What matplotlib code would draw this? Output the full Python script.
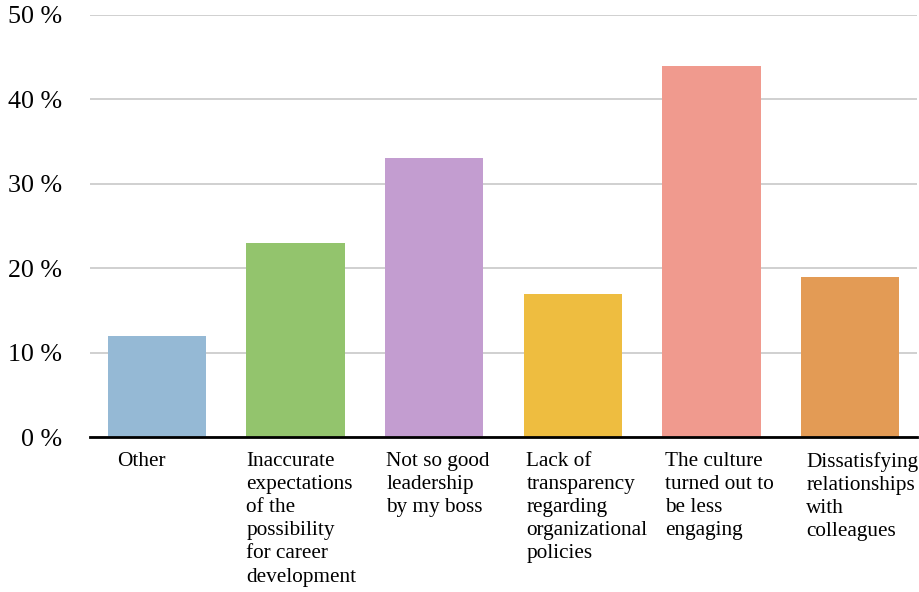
import matplotlib.pyplot as plt
import matplotlib.transforms as mtransforms
import numpy as np

categories = ['Other',
              'Inaccurate\nexpectations\nof the\npossibility\nfor career\ndevelopment',
              'Not so good\nleadership\nby my boss',
              'Lack of\ntransparency\nregarding\norganizational\npolicies',
              'The culture\nturned out to\nbe less\nengaging',
              'Dissatisfying\nrelationships\nwith\ncolleagues']
values = [12, 23, 33, 17, 44, 19]
colors = ['#95B9D5', '#93C46D', '#C39DD0', '#EEBD40', '#F09A8E', '#E39B55']
yticks = [0, 10, 20, 30, 40, 50]

plt.rcParams['font.family'] = ['Liberation Serif', 'DejaVu Serif']

fig = plt.figure(figsize=(9.19, 5.92), dpi=100)
ax = fig.add_axes([0.0979, 0.2618, 0.8999, 0.7129])

x = np.arange(len(categories))
width = 0.71
ax.bar(x, values, width=width, color=colors, zorder=2)

ax.set_xlim(-0.483, len(categories) - 1 + 0.483)
ax.set_ylim(0, 50)
ax.set_yticks(yticks)
ax.set_yticklabels([f'{t} %' for t in yticks], fontsize=18.7)
ax.tick_params(axis='y', length=0, pad=20)
ax.set_xticks([])
ax.yaxis.grid(True, color='#c8c8c8', linewidth=1.2, zorder=0)
ax.set_axisbelow(True)
for s in ['top', 'right', 'left']:
    ax.spines[s].set_visible(False)
ax.spines['bottom'].set_linewidth(2)
ax.spines['bottom'].set_color('black')
ax.spines['bottom'].set_zorder(3)

trans = mtransforms.blended_transform_factory(ax.transData, ax.transAxes)
offsets = [0.07, 0.0, 0.01, 0.02, 0.02, 0.04]
for i, lab in enumerate(categories):
    ax.text(x[i] - width / 2 + offsets[i], -0.036, lab, transform=trans,
            ha='left', va='top', fontsize=15.3, linespacing=1.29)

fig.savefig('out.png', dpi=100)
